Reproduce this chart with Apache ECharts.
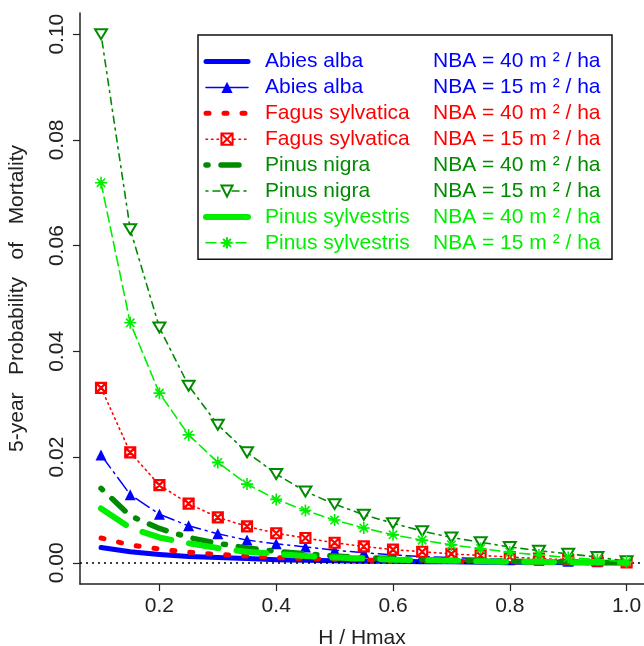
<!DOCTYPE html>
<html>
<head>
<meta charset="utf-8">
<script src="https://cdn.jsdelivr.net/npm/echarts@6/dist/echarts.min.js"></script>
<style>
  html, body { margin: 0; padding: 0; background: #fff; }
  #chart { width: 644px; height: 646px; }
</style>
</head>
<body>
<div id="chart"></div>
<script>
// relative height H / Hmax
const hRatio = [0.10, 0.15, 0.20, 0.25, 0.30, 0.35, 0.40, 0.45, 0.50, 0.55,
                0.60, 0.65, 0.70, 0.75, 0.80, 0.85, 0.90, 0.95, 1.00];

// 5-year probability of mortality
const abiesAlba40 = [0.0029, 0.0021, 0.0016, 0.0012, 0.0010, 0.0008, 0.0006, 0.0005, 0.0004, 0.0003,
                     0.0003, 0.0002, 0.0002, 0.0001, 0.0001, 0.0001, 0.0000, 0.0000, 0.0000];
const abiesAlba15 = [0.0204, 0.0129, 0.0092, 0.0070, 0.0055, 0.0043, 0.0036, 0.0030, 0.0024, 0.0019,
                     0.0015, 0.0012, 0.0010, 0.0008, 0.0006, 0.0005, 0.0003, 0.0002, 0.0001];
const fagus40 = [0.0047, 0.0034, 0.0026, 0.0020, 0.0016, 0.0013, 0.0010, 0.0008, 0.0007, 0.0005,
                 0.0004, 0.0003, 0.0003, 0.0002, 0.0002, 0.0001, 0.0001, 0.0000, 0.0000];
const fagus15 = [0.0331, 0.0209, 0.0147, 0.0112, 0.0086, 0.0069, 0.0056, 0.0047, 0.0038, 0.0031,
                 0.0025, 0.0021, 0.0017, 0.0014, 0.0011, 0.0008, 0.0006, 0.0004, 0.0001];
const nigra40 = [0.0141, 0.0089, 0.0065, 0.0048, 0.0037, 0.0028, 0.0022, 0.0017, 0.0013, 0.0010,
                 0.0008, 0.0006, 0.0005, 0.0004, 0.0003, 0.0002, 0.0002, 0.0001, 0.0000];
const nigra15 = [0.1000, 0.0631, 0.0445, 0.0335, 0.0261, 0.0209, 0.0168, 0.0135, 0.0111, 0.0091,
                 0.0075, 0.0060, 0.0048, 0.0039, 0.0030, 0.0023, 0.0017, 0.0011, 0.0003];
const sylv40 = [0.0103, 0.0066, 0.0048, 0.0037, 0.0028, 0.0021, 0.0017, 0.0013, 0.0010, 0.0008,
                0.0006, 0.0005, 0.0004, 0.0003, 0.0002, 0.0002, 0.0001, 0.0001, 0.0000];
const sylv15 = [0.0719, 0.0454, 0.0321, 0.0242, 0.0190, 0.0149, 0.0120, 0.0099, 0.0081, 0.0066,
                0.0053, 0.0043, 0.0034, 0.0027, 0.0020, 0.0015, 0.0010, 0.0006, 0.0002];

const species = ["Abies alba", "Abies alba", "Fagus sylvatica", "Fagus sylvatica",
                 "Pinus nigra", "Pinus nigra", "Pinus sylvestris", "Pinus sylvestris"];
const nba = [40, 15, 40, 15, 40, 15, 40, 15];
const values = [abiesAlba40, abiesAlba15, fagus40, fagus15, nigra40, nigra15, sylv40, sylv15];

const xTicks = [0.2, 0.4, 0.6, 0.8, 1.0];
const yTicks = [0.00, 0.02, 0.04, 0.06, 0.08, 0.10];

const BLUE = "#0000ff", RED = "#ff0000", DKGREEN = "#008b00", LTGREEN = "#00ee00";
const FONT = "Liberation Sans";

// line + marker look of each curve (legend: own dash for the short sample)
const styles = [
  { color: BLUE, width: 5, type: "solid", symbol: "none", legendType: "solid" },
  { color: BLUE, width: 1.5, type: [16, 5, 2, 5], symbol: "triangle", size: 11, fill: BLUE, legendType: "solid" },
  { color: RED, width: 5, type: [3, 15], symbol: "none", legendType: [3, 15] },
  { color: RED, width: 1.6, type: [1.5, 4], symbol: "path://M0,0L10,0L10,10L0,10ZM0,0L10,10M10,0L0,10",
    size: 10, fill: "#fff", border: 2.2, legendType: [1.5, 4] },
  { color: DKGREEN, width: 5.5, type: [2, 13, 18, 13], symbol: "none", legendType: [2, 13, 18, 13] },
  { color: DKGREEN, width: 1.6, type: [2, 5, 7, 5], symbol: "path://M0,0L12,0L6,10Z",
    size: 12, fill: "#fff", border: 2, legendType: [2, 5, 7, 5] },
  { color: LTGREEN, width: 6, type: [30, 18], symbol: "none", legendType: "solid" },
  { color: LTGREEN, width: 1.6, type: [10, 5], symbol: "path://M5,0L5,10M0,5L10,5M1.5,1.5L8.5,8.5M8.5,1.5L1.5,8.5",
    size: 12, fill: "rgba(0,0,0,0)", border: 1.6, legendType: [10, 5] }
];

const seriesName = i => species[i] + "|" + nba[i];

let chart = echarts.init(document.getElementById("chart"), null, { renderer: "canvas" });

let series = values.map((vals, i) => {
  let s = styles[i];
  return {
    name: seriesName(i),
    type: "line",
    data: hRatio.map((h, k) => [h, vals[k]]),
    symbol: s.symbol,
    symbolSize: s.size || 0,
    symbolKeepAspect: true,
    showSymbol: s.symbol !== "none",
    lineStyle: { color: s.color, width: s.width, type: s.type, cap: "round", join: "round" },
    itemStyle: { color: s.fill || s.color, borderColor: s.color, borderWidth: s.border || 0 },
    emphasis: { disabled: true },
    animation: false,
    z: 2 + i
  };
});

// dotted reference line at zero
series[0].markLine = {
  silent: true,
  symbol: "none",
  label: { show: false },
  lineStyle: { color: "#000", type: [2, 4], width: 1.5 },
  data: [{ yAxis: 0 }],
  animation: false
};

let legendData = values.map((v, i) => {
  let s = styles[i];
  let d = {
    name: seriesName(i),
    textStyle: { color: s.color },
    lineStyle: { color: s.color, width: s.width, type: s.legendType, cap: "round" }
  };
  if (s.symbol === "none") d.itemStyle = { opacity: 0 };
  return d;
});

let option = {
  backgroundColor: "#fff",
  animation: false,
  grid: { left: 80, right: 0, top: 13, bottom: 62, containLabel: false, outerBoundsMode: "none" },
  xAxis: {
    type: "value",
    min: 0.064,
    max: 1.0298,
    name: "H / Hmax",
    nameLocation: "middle",
    nameGap: 44,
    nameTextStyle: { fontFamily: FONT, fontSize: 21, color: "#222" },
    axisLine: { show: true, onZero: false, lineStyle: { color: "#222", width: 1.5 } },
    axisTick: { show: true, length: 7, customValues: xTicks, lineStyle: { color: "#222", width: 1.2 } },
    axisLabel: {
      customValues: xTicks, margin: 12,
      fontFamily: FONT, fontSize: 21, color: "#222",
      formatter: v => v.toFixed(1)
    },
    splitLine: { show: false }
  },
  yAxis: {
    type: "value",
    min: -0.004,
    max: 0.104,
    name: "5-year   Probability   of   Mortality",
    nameLocation: "middle",
    nameGap: 52,
    nameRotate: 90,
    nameTextStyle: { fontFamily: FONT, fontSize: 21, color: "#222" },
    axisLine: { show: true, onZero: false, lineStyle: { color: "#222", width: 1.5 } },
    axisTick: { show: true, length: 7, customValues: yTicks, lineStyle: { color: "#222", width: 1.2 } },
    axisLabel: {
      customValues: yTicks, rotate: 90, margin: 12,
      fontFamily: FONT, fontSize: 21, color: "#222",
      formatter: v => v.toFixed(2)
    },
    splitLine: { show: false }
  },
  legend: {
    show: true,
    orient: "vertical",
    left: 198,
    top: 35,
    padding: [16, 8, 6, 5],
    itemWidth: 42,
    itemHeight: 14,
    itemGap: 4.9,
    borderColor: "#111",
    borderWidth: 1.5,
    backgroundColor: "#fff",
    selectedMode: false,
    data: legendData,
    formatter: name => {
      let [sp, n] = name.split("|");
      return "{a|" + sp + "}{b|NBA = " + n + " m ² / ha}";
    },
    textStyle: {
      fontFamily: FONT,
      fontSize: 21,
      rich: {
        a: { fontFamily: FONT, fontSize: 21, width: 168, padding: [0, 0, 0, 12], lineHeight: 20 },
        b: { fontFamily: FONT, fontSize: 21, width: 171, lineHeight: 20 }
      }
    }
  },
  series: series
};

chart.setOption(option);
</script>
</body>
</html>
